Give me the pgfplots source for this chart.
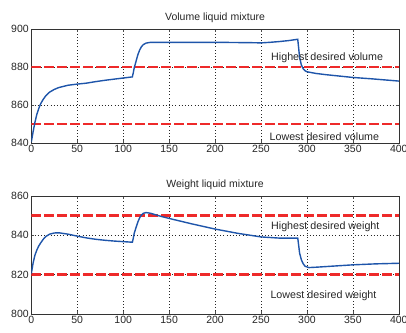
\documentclass[border=0pt]{standalone}
\usepackage{pgfplots}
\pgfplotsset{compat=1.18}
\usepackage{fontspec}
\setmainfont{Liberation Sans}
\definecolor{lineblue}{RGB}{30,85,170}
\definecolor{dred}{RGB}{238,42,42}
\tikzset{ann/.style={font=\fontsize{10.7}{12}\selectfont, black!85}}
\pgfplotsset{
  mystyle/.style={
    scale only axis, width=367.5pt,
    xmin=0, xmax=400,
    xtick={0,50,...,400},
    grid=major,
    major grid style={black!85, line width=0.5pt, dash pattern=on 0.6pt off 2.6pt},
    tick align=inside,
    tick pos=both,
    major tick length=3pt,
    axis line style={black!80, line width=0.6pt},
    tick style={black!70},
    /pgf/number format/assume math mode=true,
    /pgf/number format/1000 sep={},
    tick label style={font=\fontsize{10.5}{12}\selectfont, black!85},
    title style={font=\fontsize{10.5}{12}\selectfont, black!85, yshift=-3pt},
    xticklabel style={yshift=1pt},
    yticklabel style={xshift=1pt},
    clip=true,
  },
  redline/.style={dred, line width=2.6pt, dash pattern=on 9.5pt off 3.5pt},
  blueline/.style={lineblue, line width=1.4pt},
}
\begin{document}
\begin{tikzpicture}
\useasboundingbox (0,0) rectangle (406pt,-332pt);
\begin{axis}[mystyle, at={(31.3pt,-143pt)}, anchor=south west, height=114pt,
  ymin=840, ymax=900, ytick={840,860,880,900},
  title={Volume liquid mixture}]
\addplot[redline] coordinates {(0,880) (400,880)};
\addplot[redline] coordinates {(0,850) (400,850)};
\addplot[blueline] coordinates {
(0,840.5) (2,846) (4,851) (6,855) (8,858) (10,860.5) (13,863) (16,865) (20,866.8) (25,868.2) (30,869.2) (40,870.4) (50,871) (60,871.5) (70,872.3) (80,873) (90,873.6) (100,874.2) (110,874.8)
(111,877) (112,879.5) (114,883) (116,886.5) (118,889) (120,890.8) (122,891.8) (125,892.6) (130,893) (150,893) (200,893) (240,892.8) (250,892.7) (260,893) (270,893.4) (280,893.9) (290,894.6)
(291,890) (292,885) (294,881) (296,879) (298,878) (300,877.5) (310,876.6) (320,876) (340,875) (350,874.5) (370,873.8) (390,873.0) (400,872.6)
};
\node[ann] at (axis cs:322,884.8) {Highest desired volume};
\node[ann] at (axis cs:319,843.3) {Lowest desired volume};
\end{axis}
\begin{axis}[mystyle, at={(31.3pt,-314pt)}, anchor=south west, height=118pt,
  ymin=800, ymax=860, ytick={800,820,840,860},
  title={Weight liquid mixture}]
\addplot[redline] coordinates {(0,850) (400,850)};
\addplot[redline] coordinates {(0,820) (400,820)};
\addplot[blueline] coordinates {
(0,820.5) (2,826) (4,830) (6,832.5) (8,834.5) (10,836) (13,838) (16,839.5) (20,840.6) (25,841.2) (30,841.3) (40,840.6) (50,839.6) (60,838.7) (70,838) (80,837.5) (90,837.1) (100,836.8) (110,836.5)
(111,838.5) (112,841) (114,844) (116,846.8) (118,849) (120,850.4) (122,851.2) (125,851.6) (130,851.2) (140,849.8) (150,848.6) (175,845.8) (200,843.2) (225,841) (250,839.2) (270,838.6) (290,838.6)
(291,835) (292,831) (294,827.5) (296,825.5) (298,824.3) (302,823.6) (310,823.8) (330,824.4) (350,825) (375,825.5) (400,825.8)
};
\node[ann] at (axis cs:320,844.4) {Highest desired weight};
\node[ann] at (axis cs:318,809.4) {Lowest desired weight};
\end{axis}
\end{tikzpicture}
\end{document}
